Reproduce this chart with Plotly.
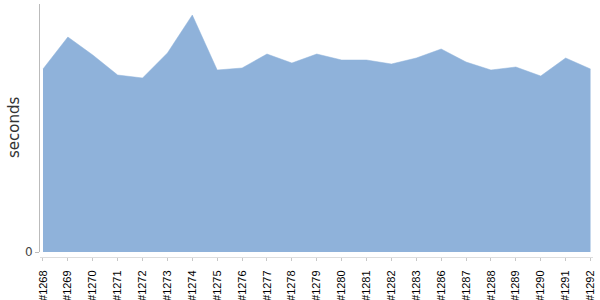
import plotly.graph_objects as go

builds = ["#1268", "#1269", "#1270", "#1271", "#1272", "#1273", "#1274", "#1275",
          "#1276", "#1277", "#1278", "#1279", "#1280", "#1281", "#1282", "#1283",
          "#1286", "#1287", "#1288", "#1289", "#1290", "#1291", "#1292"]
seconds = [183, 215, 197, 177, 174, 199, 237, 182, 184, 198, 189, 198, 192, 192,
           188, 194, 203, 190, 182, 185, 176, 194, 183]

idx = list(range(len(builds)))

fig = go.Figure()
fig.add_trace(go.Scatter(
    x=idx, y=seconds, mode="lines", fill="tozeroy",
    line=dict(color="rgb(143,178,218)", width=0.5),
    fillcolor="rgb(143,178,218)", hoverinfo="skip", showlegend=False,
))

fig.update_layout(
    width=600, height=300,
    margin=dict(l=40, r=7, t=4, b=43),
    paper_bgcolor="white", plot_bgcolor="white",
    xaxis=dict(
        range=[-0.12, len(builds) - 1 + 0.1],
        anchor="free", position=0, automargin=False,
        tickmode="array", tickvals=idx, ticktext=builds,
        tickangle=-90, ticks="outside", ticklen=3, tickcolor="#c8c8c8",
        ticklabelstandoff=5,
        showgrid=False, zeroline=False, showline=True, linecolor="#dddddd", linewidth=1,
        tickfont=dict(family="Liberation Sans", size=11, color="black"),
    ),
    yaxis=dict(
        domain=[5 / 253, 1], automargin=False,
        range=[0, 248], tickmode="array", tickvals=[0], ticktext=["0"],
        ticks="outside", ticklen=4, tickcolor="#bbbbbb",
        showgrid=False, zeroline=False, showline=True, linecolor="#bbbbbb", linewidth=1,
        tickfont=dict(family="DejaVu Sans", size=12, color="#444444"),
    ),
    annotations=[dict(
        text="seconds", textangle=-90, showarrow=False,
        xref="paper", yref="paper", x=(14 - 40) / 553, y=(257 - 128) / 253,
        xanchor="center", yanchor="middle",
        font=dict(family="DejaVu Sans", size=15, color="#333333"),
    )],
)

fig.write_html("out.html")
